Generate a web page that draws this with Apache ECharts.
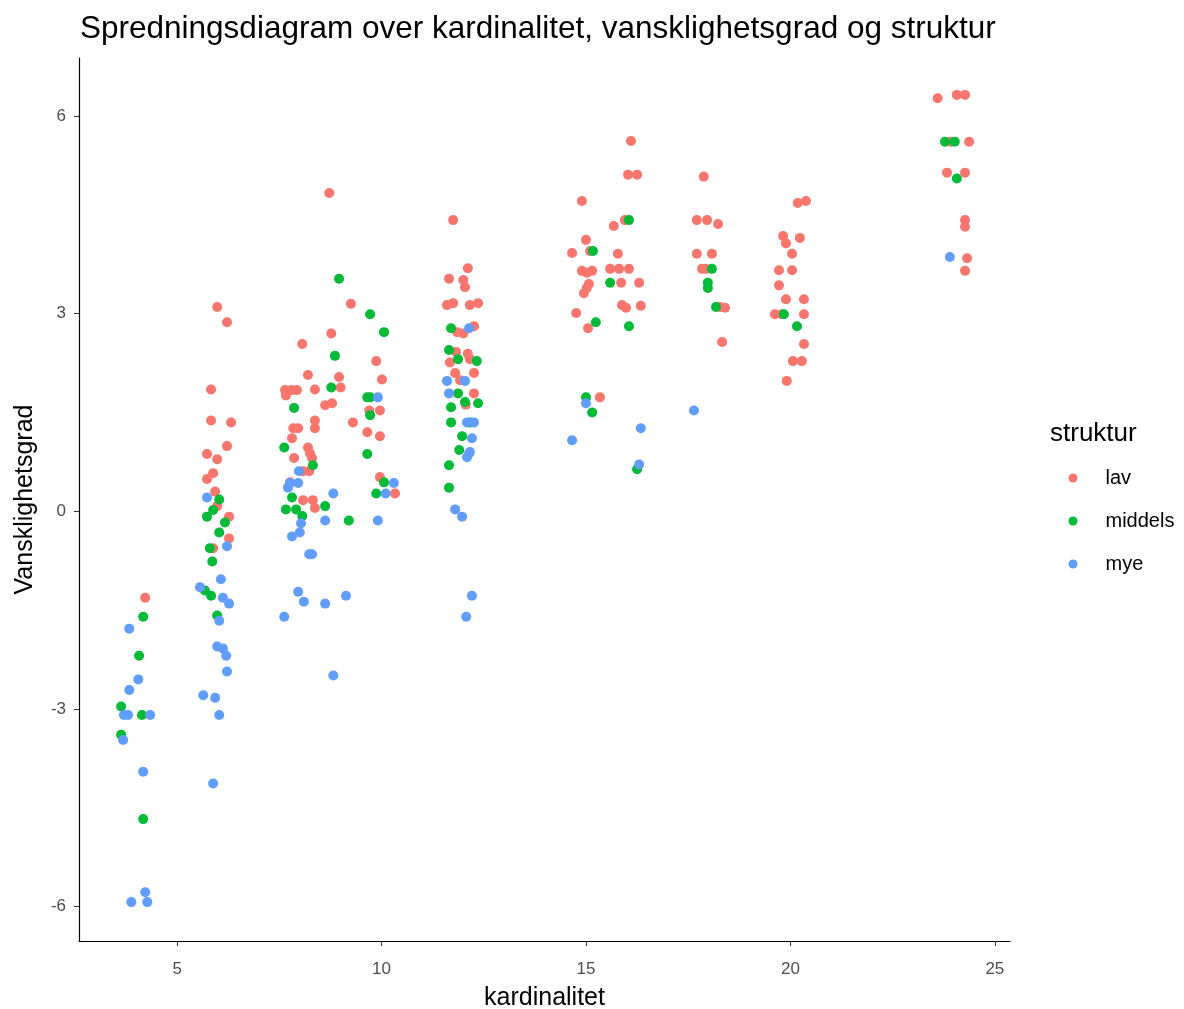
<!DOCTYPE html>
<html><head><meta charset="utf-8">
<script src="https://cdn.jsdelivr.net/npm/echarts@6/dist/echarts.min.js"></script>
<style>html,body{margin:0;padding:0;background:#fff}#c{width:1184px;height:1009px}</style>
</head><body><div id="c"></div>
<script>
const seriesNames = ["lav", "middels", "mye"];
const seriesColors = ["#F8766D", "#00BA38", "#619CFF"];
const xTicks = [5, 10, 15, 20, 25];
const yTicks = [-6, -3, 0, 3, 6];

const lav = [
[4.22,-1.31],
[5.98,3.10],[6.22,2.87],[5.83,1.85],[5.83,1.38],[6.32,1.35],[6.22,0.99],[5.73,0.87],[5.98,0.79],[5.88,0.58],[5.73,0.49],[5.93,0.30],[5.98,0.08],[6.27,-0.08],[6.27,-0.41],[5.88,-0.56],
[8.72,4.83],[9.25,3.15],[8.77,2.70],[8.06,2.54],[9.87,2.28],[8.2,2.07],[8.96,2.04],[10.01,2.0],[7.64,1.84],[7.8,1.84],[7.93,1.84],[7.66,1.76],[8.37,1.85],[9.0,1.88],[8.62,1.61],[8.79,1.64],[9.7,1.53],[9.96,1.53],[8.37,1.38],[9.3,1.35],[7.84,1.26],[7.96,1.26],[8.37,1.26],[7.81,1.11],[9.65,1.2],[9.96,1.14],[8.2,0.97],[8.25,0.88],[8.3,0.81],[7.86,0.81],[8.08,0.61],[8.23,0.61],[9.96,0.52],[7.76,0.44],[10.33,0.27],[8.08,0.17],[8.32,0.17],[8.37,0.05],
[11.75,4.42],[12.11,3.69],[11.65,3.53],[12.0,3.51],[12.04,3.40],[11.6,3.13],[11.75,3.16],[12.16,3.13],[12.36,3.16],[11.85,2.72],[12.0,2.7],[12.26,2.81],[11.67,2.26],[11.82,2.42],[12.11,2.39],[12.16,2.31],[11.8,2.10],[11.92,1.99],[12.26,2.10],[12.26,1.79],[12.06,1.62],
[16.1,5.62],[16.03,5.11],[16.25,5.11],[14.9,4.71],[15.95,4.42],[15.68,4.33],[15.0,4.12],[14.66,3.92],[15.1,3.95],[15.78,3.91],[14.9,3.65],[15.02,3.62],[15.15,3.65],[15.59,3.68],[15.81,3.68],[16.05,3.68],[15.07,3.45],[15.02,3.39],[15.86,3.47],[16.3,3.47],[14.95,3.31],[15.88,3.13],[15.98,3.09],[16.34,3.12],[14.76,3.01],[15.05,2.78],[15.34,1.73],
[17.88,5.08],[17.71,4.42],[17.96,4.42],[18.23,4.36],[17.71,3.91],[18.08,3.91],[17.84,3.68],[17.93,3.68],[18.28,3.10],[18.4,3.09],[18.33,2.57],
[20.18,4.68],[20.38,4.71],[19.82,4.18],[19.89,4.07],[20.23,4.15],[20.04,3.91],[19.72,3.66],[20.04,3.66],[19.72,3.43],[19.89,3.22],[20.33,3.22],[19.62,2.99],[19.79,2.99],[20.33,2.99],[20.33,2.54],[20.06,2.28],[20.28,2.28],[19.91,1.98],
[23.6,6.27],[24.07,6.32],[24.27,6.32],[23.92,5.61],[24.37,5.61],[23.83,5.14],[24.27,5.14],[24.27,4.42],[24.27,4.32],[24.32,3.84],[24.27,3.65]
];

const middels = [
[4.17,-1.60],[4.07,-2.19],[3.63,-2.96],[4.14,-3.09],[3.63,-3.39],[4.17,-4.67],
[5.68,-1.2],[5.83,-1.28],[5.98,-1.58],[6.03,0.18],[5.88,0.02],[5.73,-0.08],[6.17,-0.17],[6.03,-0.32],[5.8,-0.56],[5.86,-0.76],
[8.96,3.53],[9.72,2.99],[10.06,2.72],[8.86,2.36],[8.77,1.88],[9.65,1.73],[9.72,1.73],[7.86,1.57],[9.72,1.46],[7.62,0.97],[9.65,0.87],[8.32,0.70],[10.06,0.44],[9.87,0.27],[7.81,0.21],[8.62,0.08],[7.66,0.03],[7.91,0.03],[8.06,-0.07],[9.2,-0.14],
[11.7,2.78],[11.65,2.45],[11.87,2.31],[12.33,2.28],[11.87,1.79],[12.04,1.66],[12.36,1.64],[11.7,1.58],[11.7,1.35],[12.16,1.35],[11.97,1.14],[11.9,0.93],[11.65,0.70],[11.65,0.36],
[16.05,4.42],[15.17,3.95],[15.59,3.47],[15.24,2.87],[16.05,2.81],[15.0,1.73],[15.15,1.50],[16.25,0.64],
[18.08,3.68],[17.98,3.47],[17.98,3.39],[18.18,3.10],
[19.84,2.99],[20.16,2.81],
[23.78,5.61],[24.02,5.61],[24.07,5.05]
];

const mye = [
[3.83,-1.78],[4.05,-2.55],[3.83,-2.71],[3.7,-3.09],[3.8,-3.09],[4.34,-3.09],[3.68,-3.47],[4.17,-3.95],[4.22,-5.78],[3.88,-5.93],[4.27,-5.93],
[5.56,-1.15],[6.12,-1.31],[6.27,-1.40],[6.03,-1.66],[5.98,-2.05],[6.12,-2.08],[6.2,-2.19],[6.22,-2.43],[5.64,-2.79],[5.93,-2.83],[6.03,-3.09],[5.88,-4.13],[5.73,0.21],[6.22,-0.53],[6.07,-1.03],
[9.91,1.73],[7.98,0.61],[7.76,0.43],[7.96,0.43],[10.3,0.43],[7.71,0.36],[8.82,0.27],[10.1,0.27],[8.62,-0.14],[9.91,-0.14],[8.03,-0.18],[8.0,-0.32],[7.81,-0.38],[8.23,-0.65],[8.3,-0.65],[7.96,-1.22],[9.13,-1.28],[8.1,-1.37],[8.62,-1.40],[7.62,-1.6],[8.82,-2.49],
[12.14,2.78],[11.6,1.98],[12.04,1.98],[11.65,1.79],[12.09,1.35],[12.26,1.35],[12.21,1.11],[12.16,0.90],[12.14,0.88],[12.09,0.82],[11.8,0.03],[11.97,-0.08],[12.21,-1.28],[12.07,-1.60],
[15.0,1.64],[16.34,1.26],[14.66,1.08],[16.3,0.71],
[17.64,1.53],
[23.9,3.86]
];

const allData = [lav, middels, mye];
const FONT = "'Liberation Sans', Arial, sans-serif";
const chart = echarts.init(document.getElementById('c'), null, {renderer: 'canvas'});
chart.setOption({
  animation: false,
  backgroundColor: '#ffffff',
  title: {
    text: 'Spredningsdiagram over kardinalitet, vansklighetsgrad og struktur',
    left: 75, top: 8,
    textStyle: {fontFamily: FONT, fontSize: 31.5, fontWeight: 'normal', color: '#000'}
  },
  legend: {
    orient: 'vertical', left: 1063.5, top: 463,
    itemWidth: 9, itemHeight: 9, itemGap: 23,
    icon: 'circle',
    data: seriesNames,
    textStyle: {fontFamily: FONT, fontSize: 20, lineHeight: 20, color: '#000', padding: [0,0,0,23]}
  },
  graphic: [{
    type: 'text', left: 1050, top: 421,
    style: {text: 'struktur', font: '26px ' + FONT, fill: '#000'}
  }],
  grid: {left: 79, right: 174, top: 58, bottom: 68, containLabel: false, outerBoundsMode: 'none'},
  xAxis: {
    type: 'value', min: 2.6, max: 25.37,
    name: 'kardinalitet', nameLocation: 'middle', nameGap: 45,
    nameTextStyle: {fontFamily: FONT, fontSize: 25, color: '#000'},
    splitLine: {show: false},
    axisLine: {show: true, onZero: false, lineStyle: {color: '#000', width: 1.2}},
    axisTick: {show: true, length: 5, customValues: xTicks, lineStyle: {color: '#333'}},
    axisLabel: {customValues: xTicks, fontFamily: FONT, fontSize: 17, color: '#4d4d4d', margin: 20}
  },
  yAxis: {
    type: 'value', min: -6.52, max: 6.88,
    name: 'Vansklighetsgrad', nameLocation: 'middle', nameGap: 41.5, nameRotate: 90,
    nameTextStyle: {fontFamily: FONT, fontSize: 25, color: '#000'},
    splitLine: {show: false},
    axisLine: {show: true, onZero: false, lineStyle: {color: '#000', width: 1.2}},
    axisTick: {show: true, length: 5, customValues: yTicks, lineStyle: {color: '#333'}},
    axisLabel: {customValues: yTicks, fontFamily: FONT, fontSize: 17, color: '#4d4d4d', margin: 13}
  },
  series: seriesNames.map((n, i) => ({
    name: n, type: 'scatter', data: allData[i], symbolSize: 10,
    itemStyle: {color: seriesColors[i], opacity: 1}
  }))
});
</script></body></html>
